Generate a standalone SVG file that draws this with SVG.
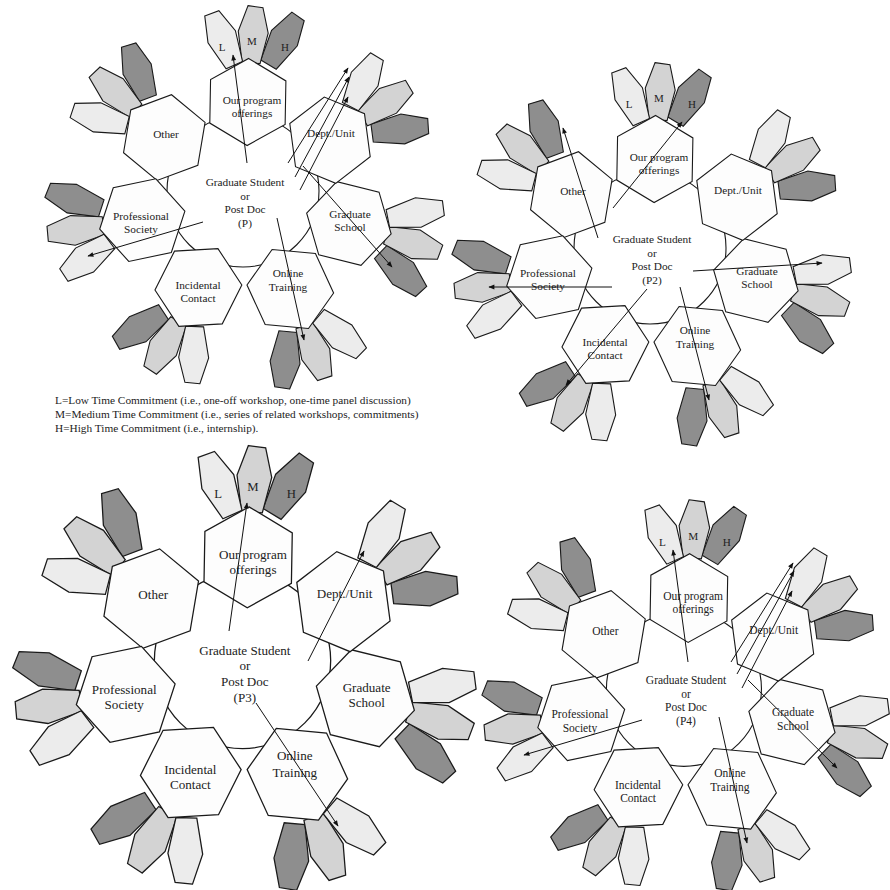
<svg xmlns="http://www.w3.org/2000/svg" xmlns:xlink="http://www.w3.org/1999/xlink" width="890" height="890" viewBox="0 0 890 890">
<style>
.pl{fill:#ececec}
.pm{fill:#d3d3d3}
.ph{fill:#8e8e8e}
.hx{fill:#fdfdfd}
.pl,.pm,.ph,.hx,.ring{stroke:#1a1a1a;stroke-width:1.1;stroke-linejoin:miter}
.ring{fill:#ffffff}
text{font-family:"Liberation Serif","Times New Roman",serif;fill:#222;text-anchor:middle}
.lb{font-size:11.3px}
.pt{font-size:11px}
.lg{font-size:11.3px;text-anchor:start}
.cn line{stroke:#111;stroke-width:1;fill:none;marker-end:url(#ah)}
</style>
<defs>
<polygon id="petal" points="-7,-29 8,-28 15,-3 9,28 -9,28 -15,-3"/>
<polygon id="hex" points="0,-43.5 37.67,-21.75 37.67,21.75 0,43.5 -37.67,21.75 -37.67,-21.75"/>
<marker id="ah" viewBox="0 0 10 10" refX="9" refY="5" markerWidth="7" markerHeight="6" orient="auto" markerUnits="userSpaceOnUse">
<path d="M0,1 L10,5 L0,9 z" fill="#111"/>
</marker>
</defs>
<rect width="890" height="890" fill="#ffffff"/>

<!-- Flower 1 -->
<g id="flower1" transform="translate(246,200)">
<g id="f1-center" class="node">
<circle class="ring" cx="-3" cy="-9" r="76"/>
</g>
<g id="f1-offerings" class="node">
<g transform="translate(1.85,-98) rotate(1)">
<use href="#petal" class="ph" transform="translate(34,-62) rotate(30)"/>
<use href="#petal" class="pm" transform="translate(4,-67) rotate(3)"/>
<use href="#petal" class="pl" transform="translate(-26,-62) rotate(-25)"/>
<use href="#hex" class="hx"/>
</g>
<text class="lb" x="6" y="-96.5">Our program</text>
<text class="lb" x="6" y="-83.5">offerings</text>
<text class="pt" x="-24" y="-149">L</text>
<text class="pt" x="6" y="-155">M</text>
<text class="pt" x="39" y="-149">H</text>
</g>
<g id="f1-other" class="node">
<g transform="translate(-81.7,-62.4) rotate(-50.43)">
<use href="#petal" class="ph" transform="translate(34,-62) rotate(30)"/>
<use href="#petal" class="pm" transform="translate(4,-67) rotate(3)"/>
<use href="#petal" class="pl" transform="translate(-26,-62) rotate(-25)"/>
<use href="#hex" class="hx"/>
</g>
<text class="lb" x="-80" y="-62">Other</text>
</g>
<g id="f1-society" class="node">
<g transform="translate(-103.7,20.1) rotate(-101.86)">
<use href="#petal" class="ph" transform="translate(34,-62) rotate(30)"/>
<use href="#petal" class="pm" transform="translate(4,-67) rotate(3)"/>
<use href="#petal" class="pl" transform="translate(-26,-62) rotate(-25)"/>
<use href="#hex" class="hx"/>
</g>
<text class="lb" x="-105" y="20">Professional</text>
<text class="lb" x="-105" y="33">Society</text>
</g>
<g id="f1-incidental" class="node">
<g transform="translate(-47.6,87.5) rotate(-153.29)">
<use href="#petal" class="ph" transform="translate(34,-62) rotate(30)"/>
<use href="#petal" class="pm" transform="translate(4,-67) rotate(3)"/>
<use href="#petal" class="pl" transform="translate(-26,-62) rotate(-25)"/>
<use href="#hex" class="hx"/>
</g>
<text class="lb" x="-48" y="89">Incidental</text>
<text class="lb" x="-48" y="102">Contact</text>
</g>
<g id="f1-online" class="node">
<g transform="translate(44.3,89) rotate(155.29)">
<use href="#petal" class="ph" transform="translate(34,-62) rotate(30)"/>
<use href="#petal" class="pm" transform="translate(4,-67) rotate(3)"/>
<use href="#petal" class="pl" transform="translate(-26,-62) rotate(-25)"/>
<use href="#hex" class="hx"/>
</g>
<text class="lb" x="42" y="77">Online</text>
<text class="lb" x="42" y="91">Training</text>
</g>
<g id="f1-gradschool" class="node">
<g transform="translate(102.9,23.5) rotate(103.86)">
<use href="#petal" class="ph" transform="translate(34,-62) rotate(30)"/>
<use href="#petal" class="pm" transform="translate(4,-67) rotate(3)"/>
<use href="#petal" class="pl" transform="translate(-26,-62) rotate(-25)"/>
<use href="#hex" class="hx"/>
</g>
<text class="lb" x="104" y="18">Graduate</text>
<text class="lb" x="104" y="31">School</text>
</g>
<g id="f1-dept" class="node">
<g transform="translate(84,-59.8) rotate(52.43)">
<use href="#petal" class="ph" transform="translate(34,-62) rotate(30)"/>
<use href="#petal" class="pm" transform="translate(4,-67) rotate(3)"/>
<use href="#petal" class="pl" transform="translate(-26,-62) rotate(-25)"/>
<use href="#hex" class="hx"/>
</g>
<text class="lb" x="85" y="-63">Dept./Unit</text>
</g>
<g id="f1-center-label">
<text class="lb" x="-1" y="-14">Graduate Student</text>
<text class="lb" x="-1" y="-0.5">or</text>
<text class="lb" x="-1" y="13">Post Doc</text>
<text class="lb" x="-1" y="26.5">(P)</text>
</g>
</g>

<!-- Flower 2 -->
<g id="flower2" transform="translate(653,257)">
<g id="f2-center" class="node">
<circle class="ring" cx="-3" cy="-9" r="76"/>
</g>
<g id="f2-offerings" class="node">
<g transform="translate(1.85,-98) rotate(1)">
<use href="#petal" class="ph" transform="translate(34,-62) rotate(30)"/>
<use href="#petal" class="pm" transform="translate(4,-67) rotate(3)"/>
<use href="#petal" class="pl" transform="translate(-26,-62) rotate(-25)"/>
<use href="#hex" class="hx"/>
</g>
<text class="lb" x="6" y="-96.5">Our program</text>
<text class="lb" x="6" y="-83.5">offerings</text>
<text class="pt" x="-24" y="-149">L</text>
<text class="pt" x="6" y="-155">M</text>
<text class="pt" x="39" y="-149">H</text>
</g>
<g id="f2-other" class="node">
<g transform="translate(-81.7,-62.4) rotate(-50.43)">
<use href="#petal" class="ph" transform="translate(34,-62) rotate(30)"/>
<use href="#petal" class="pm" transform="translate(4,-67) rotate(3)"/>
<use href="#petal" class="pl" transform="translate(-26,-62) rotate(-25)"/>
<use href="#hex" class="hx"/>
</g>
<text class="lb" x="-80" y="-62">Other</text>
</g>
<g id="f2-society" class="node">
<g transform="translate(-103.7,20.1) rotate(-101.86)">
<use href="#petal" class="ph" transform="translate(34,-62) rotate(30)"/>
<use href="#petal" class="pm" transform="translate(4,-67) rotate(3)"/>
<use href="#petal" class="pl" transform="translate(-26,-62) rotate(-25)"/>
<use href="#hex" class="hx"/>
</g>
<text class="lb" x="-105" y="20">Professional</text>
<text class="lb" x="-105" y="33">Society</text>
</g>
<g id="f2-incidental" class="node">
<g transform="translate(-47.6,87.5) rotate(-153.29)">
<use href="#petal" class="ph" transform="translate(34,-62) rotate(30)"/>
<use href="#petal" class="pm" transform="translate(4,-67) rotate(3)"/>
<use href="#petal" class="pl" transform="translate(-26,-62) rotate(-25)"/>
<use href="#hex" class="hx"/>
</g>
<text class="lb" x="-48" y="89">Incidental</text>
<text class="lb" x="-48" y="102">Contact</text>
</g>
<g id="f2-online" class="node">
<g transform="translate(44.3,89) rotate(155.29)">
<use href="#petal" class="ph" transform="translate(34,-62) rotate(30)"/>
<use href="#petal" class="pm" transform="translate(4,-67) rotate(3)"/>
<use href="#petal" class="pl" transform="translate(-26,-62) rotate(-25)"/>
<use href="#hex" class="hx"/>
</g>
<text class="lb" x="42" y="77">Online</text>
<text class="lb" x="42" y="91">Training</text>
</g>
<g id="f2-gradschool" class="node">
<g transform="translate(102.9,23.5) rotate(103.86)">
<use href="#petal" class="ph" transform="translate(34,-62) rotate(30)"/>
<use href="#petal" class="pm" transform="translate(4,-67) rotate(3)"/>
<use href="#petal" class="pl" transform="translate(-26,-62) rotate(-25)"/>
<use href="#hex" class="hx"/>
</g>
<text class="lb" x="104" y="18">Graduate</text>
<text class="lb" x="104" y="31">School</text>
</g>
<g id="f2-dept" class="node">
<g transform="translate(84,-59.8) rotate(52.43)">
<use href="#petal" class="ph" transform="translate(34,-62) rotate(30)"/>
<use href="#petal" class="pm" transform="translate(4,-67) rotate(3)"/>
<use href="#petal" class="pl" transform="translate(-26,-62) rotate(-25)"/>
<use href="#hex" class="hx"/>
</g>
<text class="lb" x="85" y="-63">Dept./Unit</text>
</g>
<g id="f2-center-label">
<text class="lb" x="-1" y="-14">Graduate Student</text>
<text class="lb" x="-1" y="-0.5">or</text>
<text class="lb" x="-1" y="13">Post Doc</text>
<text class="lb" x="-1" y="26.5">(P2)</text>
</g>
</g>

<!-- Flower 3 -->
<g id="flower3" transform="translate(246,671) scale(1.16)">
<g id="f3-center" class="node">
<circle class="ring" cx="-3" cy="-9" r="76"/>
</g>
<g id="f3-offerings" class="node">
<g transform="translate(1.85,-98) rotate(1)">
<use href="#petal" class="ph" transform="translate(34,-62) rotate(30)"/>
<use href="#petal" class="pm" transform="translate(4,-67) rotate(3)"/>
<use href="#petal" class="pl" transform="translate(-26,-62) rotate(-25)"/>
<use href="#hex" class="hx"/>
</g>
<text class="lb" x="6" y="-96.5">Our program</text>
<text class="lb" x="6" y="-83.5">offerings</text>
<text class="pt" x="-24" y="-149">L</text>
<text class="pt" x="6" y="-155">M</text>
<text class="pt" x="39" y="-149">H</text>
</g>
<g id="f3-other" class="node">
<g transform="translate(-81.7,-62.4) rotate(-50.43)">
<use href="#petal" class="ph" transform="translate(34,-62) rotate(30)"/>
<use href="#petal" class="pm" transform="translate(4,-67) rotate(3)"/>
<use href="#petal" class="pl" transform="translate(-26,-62) rotate(-25)"/>
<use href="#hex" class="hx"/>
</g>
<text class="lb" x="-80" y="-62">Other</text>
</g>
<g id="f3-society" class="node">
<g transform="translate(-103.7,20.1) rotate(-101.86)">
<use href="#petal" class="ph" transform="translate(34,-62) rotate(30)"/>
<use href="#petal" class="pm" transform="translate(4,-67) rotate(3)"/>
<use href="#petal" class="pl" transform="translate(-26,-62) rotate(-25)"/>
<use href="#hex" class="hx"/>
</g>
<text class="lb" x="-105" y="20">Professional</text>
<text class="lb" x="-105" y="33">Society</text>
</g>
<g id="f3-incidental" class="node">
<g transform="translate(-47.6,87.5) rotate(-153.29)">
<use href="#petal" class="ph" transform="translate(34,-62) rotate(30)"/>
<use href="#petal" class="pm" transform="translate(4,-67) rotate(3)"/>
<use href="#petal" class="pl" transform="translate(-26,-62) rotate(-25)"/>
<use href="#hex" class="hx"/>
</g>
<text class="lb" x="-48" y="89">Incidental</text>
<text class="lb" x="-48" y="102">Contact</text>
</g>
<g id="f3-online" class="node">
<g transform="translate(44.3,89) rotate(155.29)">
<use href="#petal" class="ph" transform="translate(34,-62) rotate(30)"/>
<use href="#petal" class="pm" transform="translate(4,-67) rotate(3)"/>
<use href="#petal" class="pl" transform="translate(-26,-62) rotate(-25)"/>
<use href="#hex" class="hx"/>
</g>
<text class="lb" x="42" y="77">Online</text>
<text class="lb" x="42" y="91">Training</text>
</g>
<g id="f3-gradschool" class="node">
<g transform="translate(102.9,23.5) rotate(103.86)">
<use href="#petal" class="ph" transform="translate(34,-62) rotate(30)"/>
<use href="#petal" class="pm" transform="translate(4,-67) rotate(3)"/>
<use href="#petal" class="pl" transform="translate(-26,-62) rotate(-25)"/>
<use href="#hex" class="hx"/>
</g>
<text class="lb" x="104" y="18">Graduate</text>
<text class="lb" x="104" y="31">School</text>
</g>
<g id="f3-dept" class="node">
<g transform="translate(84,-59.8) rotate(52.43)">
<use href="#petal" class="ph" transform="translate(34,-62) rotate(30)"/>
<use href="#petal" class="pm" transform="translate(4,-67) rotate(3)"/>
<use href="#petal" class="pl" transform="translate(-26,-62) rotate(-25)"/>
<use href="#hex" class="hx"/>
</g>
<text class="lb" x="85" y="-63">Dept./Unit</text>
</g>
<g id="f3-center-label">
<text class="lb" x="-1" y="-14">Graduate Student</text>
<text class="lb" x="-1" y="-0.5">or</text>
<text class="lb" x="-1" y="13">Post Doc</text>
<text class="lb" x="-1" y="26.5">(P3)</text>
</g>
</g>

<!-- Flower 4 -->
<g id="flower4" transform="translate(687,698) scale(1.02)">
<g id="f4-center" class="node">
<circle class="ring" cx="-3" cy="-9" r="76"/>
</g>
<g id="f4-offerings" class="node">
<g transform="translate(1.85,-98) rotate(1)">
<use href="#petal" class="ph" transform="translate(34,-62) rotate(30)"/>
<use href="#petal" class="pm" transform="translate(4,-67) rotate(3)"/>
<use href="#petal" class="pl" transform="translate(-26,-62) rotate(-25)"/>
<use href="#hex" class="hx"/>
</g>
<text class="lb" x="6" y="-96.5">Our program</text>
<text class="lb" x="6" y="-83.5">offerings</text>
<text class="pt" x="-24" y="-149">L</text>
<text class="pt" x="6" y="-155">M</text>
<text class="pt" x="39" y="-149">H</text>
</g>
<g id="f4-other" class="node">
<g transform="translate(-81.7,-62.4) rotate(-50.43)">
<use href="#petal" class="ph" transform="translate(34,-62) rotate(30)"/>
<use href="#petal" class="pm" transform="translate(4,-67) rotate(3)"/>
<use href="#petal" class="pl" transform="translate(-26,-62) rotate(-25)"/>
<use href="#hex" class="hx"/>
</g>
<text class="lb" x="-80" y="-62">Other</text>
</g>
<g id="f4-society" class="node">
<g transform="translate(-103.7,20.1) rotate(-101.86)">
<use href="#petal" class="ph" transform="translate(34,-62) rotate(30)"/>
<use href="#petal" class="pm" transform="translate(4,-67) rotate(3)"/>
<use href="#petal" class="pl" transform="translate(-26,-62) rotate(-25)"/>
<use href="#hex" class="hx"/>
</g>
<text class="lb" x="-105" y="20">Professional</text>
<text class="lb" x="-105" y="33">Society</text>
</g>
<g id="f4-incidental" class="node">
<g transform="translate(-47.6,87.5) rotate(-153.29)">
<use href="#petal" class="ph" transform="translate(34,-62) rotate(30)"/>
<use href="#petal" class="pm" transform="translate(4,-67) rotate(3)"/>
<use href="#petal" class="pl" transform="translate(-26,-62) rotate(-25)"/>
<use href="#hex" class="hx"/>
</g>
<text class="lb" x="-48" y="89">Incidental</text>
<text class="lb" x="-48" y="102">Contact</text>
</g>
<g id="f4-online" class="node">
<g transform="translate(44.3,89) rotate(155.29)">
<use href="#petal" class="ph" transform="translate(34,-62) rotate(30)"/>
<use href="#petal" class="pm" transform="translate(4,-67) rotate(3)"/>
<use href="#petal" class="pl" transform="translate(-26,-62) rotate(-25)"/>
<use href="#hex" class="hx"/>
</g>
<text class="lb" x="42" y="77">Online</text>
<text class="lb" x="42" y="91">Training</text>
</g>
<g id="f4-gradschool" class="node">
<g transform="translate(102.9,23.5) rotate(103.86)">
<use href="#petal" class="ph" transform="translate(34,-62) rotate(30)"/>
<use href="#petal" class="pm" transform="translate(4,-67) rotate(3)"/>
<use href="#petal" class="pl" transform="translate(-26,-62) rotate(-25)"/>
<use href="#hex" class="hx"/>
</g>
<text class="lb" x="104" y="18">Graduate</text>
<text class="lb" x="104" y="31">School</text>
</g>
<g id="f4-dept" class="node">
<g transform="translate(84,-59.8) rotate(52.43)">
<use href="#petal" class="ph" transform="translate(34,-62) rotate(30)"/>
<use href="#petal" class="pm" transform="translate(4,-67) rotate(3)"/>
<use href="#petal" class="pl" transform="translate(-26,-62) rotate(-25)"/>
<use href="#hex" class="hx"/>
</g>
<text class="lb" x="85" y="-63">Dept./Unit</text>
</g>
<g id="f4-center-label">
<text class="lb" x="-1" y="-14">Graduate Student</text>
<text class="lb" x="-1" y="-0.5">or</text>
<text class="lb" x="-1" y="13">Post Doc</text>
<text class="lb" x="-1" y="26.5">(P4)</text>
</g>
</g>

<!-- Connectors -->
<g id="connectors" class="cn">
<line x1="247" y1="163" x2="233" y2="55"/>
<line x1="288" y1="163" x2="348" y2="68"/>
<line x1="295" y1="177" x2="349" y2="77"/>
<line x1="300" y1="190" x2="348" y2="97"/>
<line x1="303" y1="166" x2="392" y2="267"/>
<line x1="203" y1="222" x2="88" y2="256"/>
<line x1="277" y1="218" x2="304" y2="340"/>

<line x1="598" y1="238" x2="563" y2="128"/>
<line x1="613" y1="208" x2="682" y2="122"/>
<line x1="612" y1="287" x2="489" y2="287"/>
<line x1="693" y1="271" x2="822" y2="263"/>
<line x1="647" y1="289" x2="566" y2="385"/>
<line x1="680" y1="287" x2="709" y2="400"/>

<line x1="229" y1="631" x2="247" y2="503"/>
<line x1="308" y1="661" x2="364" y2="551"/>
<line x1="256" y1="703" x2="338" y2="826"/>

<line x1="688" y1="662" x2="673" y2="550"/>
<line x1="731" y1="662" x2="793" y2="563"/>
<line x1="737" y1="674" x2="794" y2="571"/>
<line x1="742" y1="688" x2="792" y2="591"/>
<line x1="748" y1="680" x2="837" y2="768"/>
<line x1="642" y1="720" x2="524" y2="755"/>
<line x1="719" y1="717" x2="747" y2="843"/>
</g>

<!-- Legend -->
<g id="legend">
<text class="lg" x="55" y="404">L=Low Time Commitment (i.e., one-off workshop, one-time panel discussion)</text>
<text class="lg" x="55" y="418">M=Medium Time Commitment (i.e., series of related workshops, commitments)</text>
<text class="lg" x="55" y="432">H=High Time Commitment (i.e., internship).</text>
</g>
</svg>
